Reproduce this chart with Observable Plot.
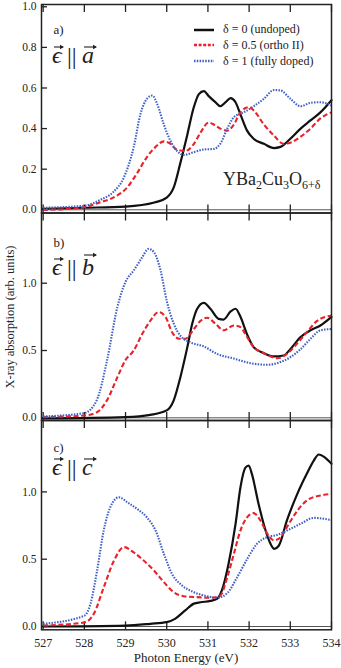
<!DOCTYPE html>
<html><head><meta charset="utf-8">
<script src="https://cdn.jsdelivr.net/npm/d3@7"></script>
<script src="https://cdn.jsdelivr.net/npm/@observablehq/plot@0.6"></script>
<style>
body{margin:0;background:#fff;}
#wrap{position:relative;width:341px;height:668px;overflow:hidden;font-family:"Liberation Serif","Times New Roman",serif;color:#222;}
.panel{position:absolute;left:0;}
.ov{position:absolute;white-space:nowrap;}
.leg{position:absolute;left:194px;height:16px;display:flex;align-items:center;font-size:12px;font-family:"Liberation Serif",serif;}
.leg svg{margin-right:9px;}
.formula{font-size:18px;font-family:"Liberation Serif",serif;}
.formula sub{font-size:12px;vertical-align:-4px;line-height:0;}
.ytitle{position:absolute;left:10px;top:317px;transform:translate(-50%,-50%) rotate(-90deg);font-size:12.5px;white-space:nowrap;font-family:"Liberation Serif",serif;}
.xtitle{position:absolute;left:186px;top:658px;transform:translate(-50%,-50%);font-size:13px;white-space:nowrap;font-family:"Liberation Serif",serif;}
.vec{position:absolute;left:48px;}
</style></head><body><div id="wrap"></div>
<script>
const seriesNames = ["δ = 0 (undoped)", "δ = 0.5 (ortho II)", "δ = 1 (fully doped)"];
const seriesColors = ["#111111", "#e8222a", "#3f5fc6"];
const xTicks = [527, 528, 529, 530, 531, 532, 533, 534];
const yTicksA = [0, 0.2, 0.4, 0.6, 0.8, 1.0];
const yTicksBC = [0, 0.5, 1.0];
const panelLabels = ["a)", "b)", "c)"];
const vecLabels = ["a", "b", "c"];

// Panel a: E || a
const aX_black = [527, 528, 529, 529.7, 530, 530.17, 530.33, 530.5, 530.65, 530.78, 530.9, 531.02, 531.18, 531.3, 531.43, 531.55, 531.67, 531.79, 531.95, 532.11, 532.36, 532.6, 532.76, 533, 533.25, 533.49, 533.73, 534];
const aY_black = [0.005, 0.01, 0.016, 0.036, 0.06, 0.11, 0.23, 0.37, 0.5, 0.57, 0.585, 0.56, 0.53, 0.51, 0.53, 0.55, 0.53, 0.47, 0.39, 0.35, 0.325, 0.304, 0.31, 0.35, 0.4, 0.44, 0.48, 0.54];
const aX_red = [527, 527.5, 528, 528.4, 528.7, 529.04, 529.28, 529.52, 529.73, 529.93, 530.05, 530.25, 530.45, 530.66, 530.82, 531.02, 531.14, 531.3, 531.47, 531.63, 531.79, 532, 532.11, 532.36, 532.6, 532.84, 533, 533.25, 533.49, 533.73, 534];
const aY_red = [0.0, 0.003, 0.013, 0.038, 0.06, 0.11, 0.18, 0.26, 0.31, 0.337, 0.33, 0.296, 0.29, 0.325, 0.38, 0.43, 0.42, 0.4, 0.39, 0.42, 0.48, 0.506, 0.49, 0.42, 0.366, 0.325, 0.33, 0.36, 0.4, 0.45, 0.48];
const aX_blue = [527, 528, 528.4, 528.7, 528.96, 529.2, 529.36, 529.52, 529.65, 529.77, 529.93, 530.09, 530.25, 530.41, 530.66, 530.9, 531.14, 531.3, 531.47, 531.63, 531.87, 532.11, 532.36, 532.6, 532.76, 533, 533.25, 533.49, 533.73, 534];
const aY_blue = [0.01, 0.02, 0.05, 0.087, 0.16, 0.31, 0.47, 0.547, 0.563, 0.52, 0.42, 0.34, 0.29, 0.27, 0.284, 0.297, 0.3, 0.325, 0.4, 0.456, 0.48, 0.51, 0.547, 0.59, 0.588, 0.547, 0.51, 0.527, 0.53, 0.514];

// Panel b: E || b
const bX_black = [527, 529, 529.6, 530, 530.17, 530.33, 530.5, 530.62, 530.74, 530.9, 531.06, 531.26, 531.38, 531.55, 531.67, 531.79, 531.95, 532.11, 532.36, 532.6, 532.84, 533, 533.25, 533.49, 533.73, 534];
const bY_black = [-0.005, 0.005, 0.022, 0.055, 0.13, 0.3, 0.525, 0.7, 0.81, 0.854, 0.81, 0.735, 0.73, 0.79, 0.81, 0.75, 0.62, 0.525, 0.48, 0.456, 0.463, 0.51, 0.6, 0.65, 0.686, 0.75];
const bX_red = [527, 528, 528.3, 528.55, 528.8, 529, 529.2, 529.4, 529.6, 529.8, 529.97, 530.13, 530.3, 530.45, 530.66, 530.82, 530.98, 531.18, 531.38, 531.63, 531.79, 531.95, 532.11, 532.36, 532.68, 532.92, 533.16, 533.4, 533.65, 534];
const bY_red = [0.005, 0.017, 0.04, 0.13, 0.3, 0.43, 0.5, 0.62, 0.72, 0.785, 0.75, 0.636, 0.587, 0.587, 0.66, 0.72, 0.743, 0.7, 0.65, 0.686, 0.674, 0.6, 0.525, 0.48, 0.443, 0.475, 0.55, 0.636, 0.72, 0.76];
const bX_blue = [527, 528, 528.3, 528.55, 528.8, 529, 529.2, 529.4, 529.56, 529.69, 529.85, 530, 530.17, 530.33, 530.58, 530.9, 531.22, 531.63, 532.03, 532.44, 532.68, 533, 533.25, 533.49, 533.73, 534];
const bY_blue = [0.01, 0.035, 0.13, 0.425, 0.82, 1.01, 1.095, 1.19, 1.255, 1.23, 1.095, 0.87, 0.7, 0.61, 0.56, 0.53, 0.475, 0.44, 0.406, 0.394, 0.406, 0.45, 0.51, 0.587, 0.65, 0.66];

// Panel c: E || c
const cX_black = [527, 529, 529.6, 530, 530.2, 530.45, 530.66, 530.82, 531.06, 531.22, 531.34, 531.5, 531.67, 531.79, 531.91, 531.99, 532.07, 532.23, 532.4, 532.52, 532.61, 532.72, 532.92, 533.17, 533.4, 533.57, 533.69, 533.85, 534];
const cY_black = [0.0, 0.007, 0.02, 0.032, 0.057, 0.12, 0.17, 0.18, 0.19, 0.205, 0.27, 0.465, 0.76, 1.035, 1.18, 1.196, 1.13, 0.91, 0.713, 0.614, 0.577, 0.6, 0.79, 0.985, 1.134, 1.233, 1.278, 1.253, 1.21];
const cX_red = [527, 528, 528.23, 528.47, 528.72, 528.96, 529.2, 529.44, 529.69, 529.93, 530.17, 530.41, 530.74, 531.06, 531.3, 531.47, 531.63, 531.79, 531.99, 532.11, 532.27, 532.44, 532.6, 532.76, 532.92, 533.17, 533.4, 533.73, 534];
const cY_red = [0.007, 0.03, 0.094, 0.29, 0.49, 0.59, 0.55, 0.49, 0.416, 0.33, 0.255, 0.225, 0.218, 0.213, 0.23, 0.366, 0.54, 0.713, 0.825, 0.842, 0.79, 0.69, 0.64, 0.66, 0.74, 0.86, 0.936, 0.973, 0.985];
const cX_blue = [527, 528, 528.15, 528.31, 528.47, 528.63, 528.84, 529.04, 529.28, 529.52, 529.73, 529.93, 530.13, 530.37, 530.66, 530.98, 531.22, 531.47, 531.71, 531.95, 532.19, 532.44, 532.68, 532.92, 533.25, 533.57, 534];
const cY_blue = [0.02, 0.08, 0.17, 0.416, 0.713, 0.887, 0.96, 0.924, 0.874, 0.81, 0.713, 0.54, 0.39, 0.305, 0.255, 0.225, 0.213, 0.248, 0.366, 0.5, 0.614, 0.664, 0.68, 0.713, 0.763, 0.807, 0.79];

const dashes = [null, "5,2.6", "1.5,1.3"];
const widths = [2.2, 2.1, 2.1];
const caps = ["round", "butt", "butt"];

const W = 341, mL = 41, mR = 10;
const innerW = W - mL - mR;
const font = '"Liberation Serif","Times New Roman",serif';

function toRows(xs, ys) { return xs.map((x, i) => ({x, y: ys[i]})); }

function makePanel(cfg) {
  const innerH = cfg.height - cfg.mTop - cfg.mBottom;
  const marks = [
    Plot.ruleY([0], {stroke: "#555", strokeWidth: 1}),
    Plot.ruleX(xTicks, {x: d => d, insetTop: innerH - 8, stroke: "#222", strokeWidth: 1.3}),
    Plot.ruleX(xTicks, {x: d => d, insetBottom: innerH - 8, stroke: "#222", strokeWidth: 1.3}),
    Plot.ruleY(cfg.yTicks, {y: d => d, insetRight: innerW - 6, stroke: "#222", strokeWidth: 1.3}),
    Plot.axisY({ticks: cfg.yTicks, tickSize: 0, tickPadding: 5, tickFormat: d3.format(".1f"), label: null, fontSize: 11.5, fontFamily: font, fill: "#222"}),
  ];
  if (cfg.xLabels) {
    marks.push(Plot.axisX({ticks: xTicks, tickSize: 0, tickPadding: 9, tickFormat: d => String(d), label: null, fontSize: 12, fontFamily: font, fill: "#222"}));
  }
  cfg.series.forEach((s, i) => {
    marks.push(Plot.line(toRows(s[0], s[1]), {
      x: "x", y: "y", stroke: seriesColors[i], strokeWidth: widths[i],
      strokeDasharray: dashes[i], strokeLinecap: caps[i], curve: "monotone-x"
    }));
  });
  marks.push(Plot.frame({stroke: "#222", strokeWidth: 1.5}));
  marks.push(Plot.text([cfg.label], {text: d => d, frameAnchor: "top-left", dx: 12, dy: cfg.labelDy, fontSize: 13, fontFamily: font, textAnchor: "start", fill: "#222"}));
  const opts = {
    width: W, height: cfg.height,
    marginLeft: mL, marginRight: mR, marginTop: cfg.mTop, marginBottom: cfg.mBottom,
    x: {domain: [526.96, 534.0]},
    y: {domain: cfg.yDomain, axis: null},
    style: {fontFamily: font, fontSize: "11px", color: "#222", background: "transparent", overflow: "visible"},
    marks
  };
  if (!cfg.xLabels) opts.x.axis = null;
  const svg = Plot.plot(opts);
  svg.classList.add("panel");
  svg.style.top = cfg.top + "px";
  return svg;
}

const wrap = document.getElementById("wrap");
wrap.appendChild(makePanel({
  top: 0, height: 222, mTop: 4, mBottom: 9.5, yDomain: [-0.0158, 1.0113], yTicks: yTicksA,
  label: panelLabels[0], labelDy: 20,
  series: [[aX_black, aY_black], [aX_red, aY_red], [aX_blue, aY_blue]]
}));
wrap.appendChild(makePanel({
  top: 203, height: 226, mTop: 9.5, mBottom: 9, yDomain: [-0.02, 1.5215], yTicks: yTicksBC,
  label: panelLabels[1], labelDy: 25,
  series: [[bX_black, bY_black], [bX_red, bY_red], [bX_blue, bY_blue]]
}));
wrap.appendChild(makePanel({
  top: 411, height: 257, mTop: 9, mBottom: 38.7, yDomain: [-0.0245, 1.5305], yTicks: yTicksBC,
  label: panelLabels[2], labelDy: 22,
  series: [[cX_black, cY_black], [cX_red, cY_red], [cX_blue, cY_blue]], xLabels: true
}));

// Polarization labels  ε ∥ a, b, c  (text with vector arrows)
const ns = "http://www.w3.org/2000/svg";
const vecBaselines = [63, 275, 475];
vecLabels.forEach((v, i) => {
  const s = document.createElementNS(ns, "svg");
  s.setAttribute("class", "vec");
  s.setAttribute("width", 56); s.setAttribute("height", 34);
  s.style.top = (vecBaselines[i] - 26) + "px";
  const B = 26;
  const mk = (tag, attrs, txt) => {
    const e = document.createElementNS(ns, tag);
    for (const k in attrs) e.setAttribute(k, attrs[k]);
    if (txt) e.textContent = txt;
    s.appendChild(e);
    return e;
  };
  const tstyle = {"font-family": font, "font-size": 24, fill: "#222"};
  mk("text", {...tstyle, x: 4, y: B, "font-style": "italic"}, "\u03F5");
  mk("text", {...tstyle, x: 19, y: B + 1}, "||");
  mk("text", {...tstyle, x: 34, y: B, "font-style": "italic"}, v);
  const arrow = (x0, x1, y) => {
    mk("line", {x1: x0, x2: x1 - 1, y1: y, y2: y, stroke: "#222", "stroke-width": 1.1});
    mk("path", {d: `M${x1},${y} L${x1 - 4},${y - 2.3} L${x1 - 4},${y + 2.3} Z`, fill: "#222"});
  };
  const ay = v === "b" ? B - 20 : B - 16;
  arrow(6, 16, B - 16);
  arrow(36, 49, ay);
  wrap.appendChild(s);
});

// Legend
const legendTops = [21.5, 37, 53];
seriesNames.forEach((name, i) => {
  const row = document.createElement("div");
  row.className = "leg";
  row.style.top = legendTops[i] + "px";
  const s = document.createElementNS(ns, "svg");
  s.setAttribute("width", 20); s.setAttribute("height", 6);
  const ln = document.createElementNS(ns, "line");
  ln.setAttribute("x1", 0); ln.setAttribute("x2", 20); ln.setAttribute("y1", 3); ln.setAttribute("y2", 3);
  ln.setAttribute("stroke", seriesColors[i]); ln.setAttribute("stroke-width", widths[i] + 0.3);
  if (dashes[i]) ln.setAttribute("stroke-dasharray", i === 1 ? "3,1.6" : dashes[i]);
  s.appendChild(ln);
  row.appendChild(s);
  const t = document.createElement("span");
  t.textContent = name;
  row.appendChild(t);
  wrap.appendChild(row);
});

const formula = document.createElement("div");
formula.className = "ov formula";
formula.style.left = "223px";
formula.style.top = "169px";
formula.innerHTML = "YBa<sub>2</sub>Cu<sub>3</sub>O<sub>6+δ</sub>";
wrap.appendChild(formula);

const yt = document.createElement("div");
yt.className = "ytitle";
yt.textContent = "X-ray absorption (arb. units)";
wrap.appendChild(yt);

const xt = document.createElement("div");
xt.className = "xtitle";
xt.textContent = "Photon Energy (eV)";
wrap.appendChild(xt);
</script>
</body></html>
